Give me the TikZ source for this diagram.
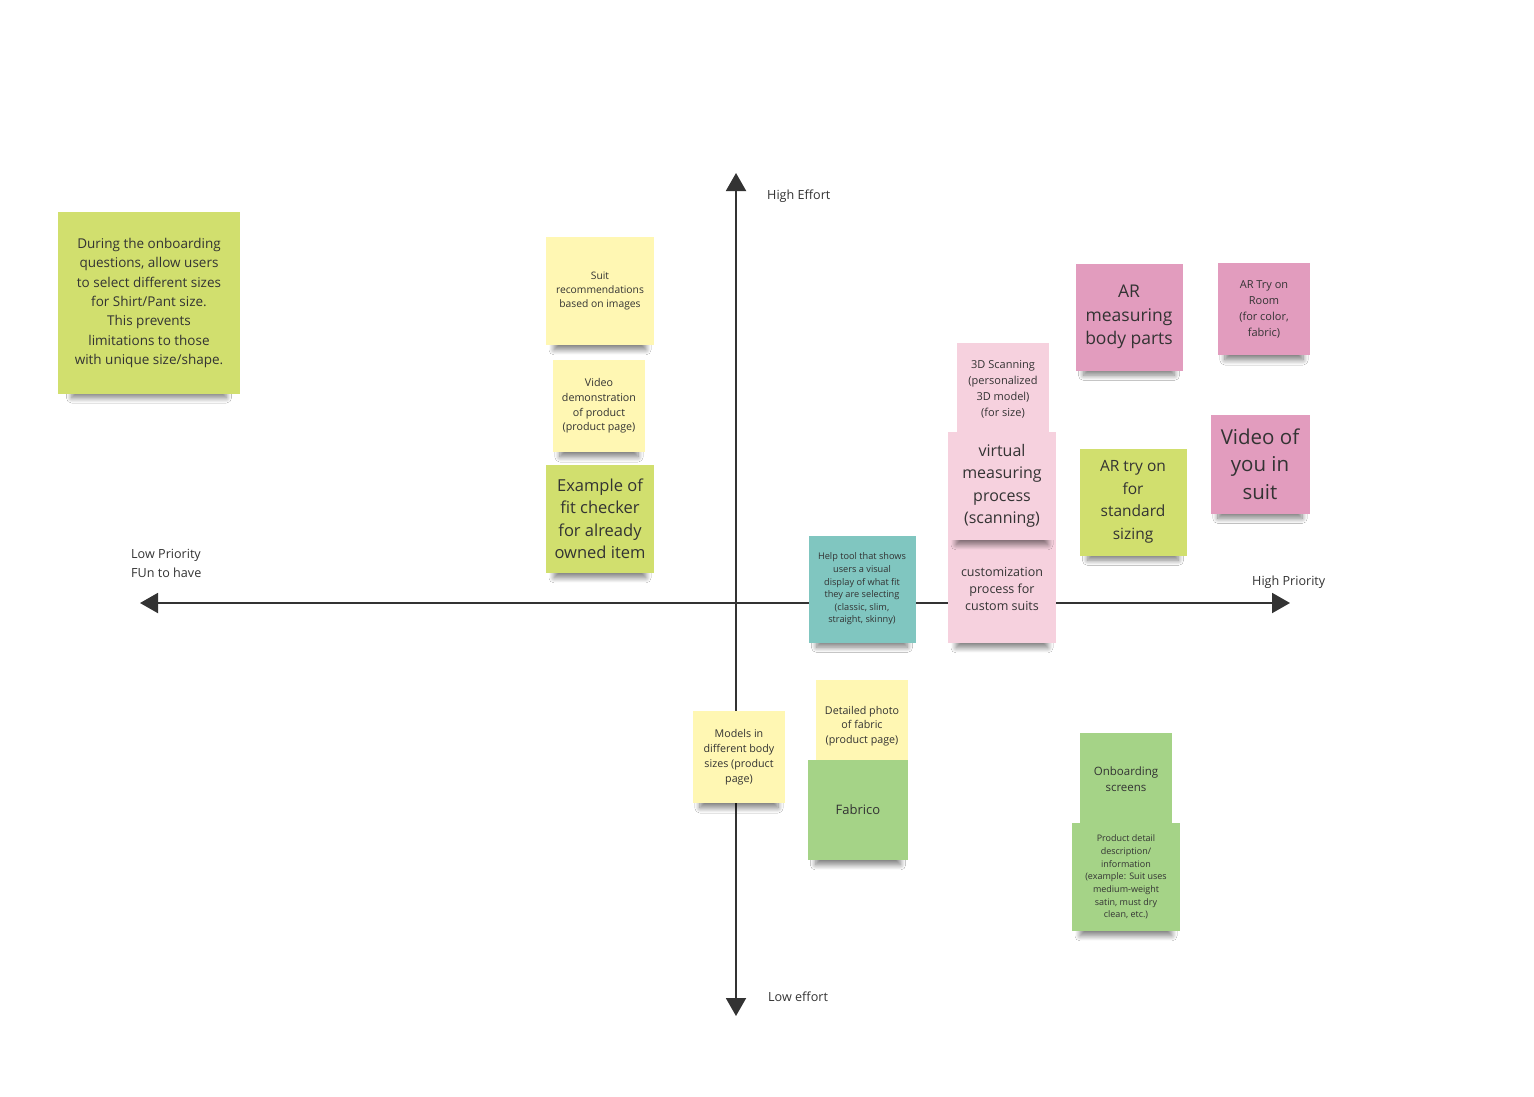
\documentclass[tikz,border=0pt]{standalone}
\usepackage{fontspec}
\setmainfont{Open Sans}
\usetikzlibrary{arrows.meta,shadows.blur}
\definecolor{ink}{HTML}{333333}
\definecolor{paleyellow}{HTML}{FFF7B3}
\definecolor{lime}{HTML}{D1DF6E}
\definecolor{leaf}{HTML}{A5D387}
\definecolor{aqua}{HTML}{80C6C0}
\definecolor{blush}{HTML}{F6D1DE}
\definecolor{orchid}{HTML}{E29CBE}
\newcommand{\fs}[2]{\fontsize{#1}{#2}\selectfont}
\begin{document}
\begin{tikzpicture}[x=1pt,y=-1pt,
axis/.style={draw=ink,line width=2pt,-{Triangle[length=18pt,width=20pt]}},
axislabel/.style={anchor=west,text=ink,font=\fs{12.6}{19},align=left,inner sep=0pt},
note/.style={minimum width=#1,minimum height=#1,inner sep=0pt,align=center,text=ink,blur shadow={shadow xshift=0pt,shadow yshift={-0.075*#1-7pt},shadow scale=0.85,shadow opacity=50,shadow blur radius=6pt,shadow blur steps=14}},
yellownote/.style={note=#1,fill=paleyellow},
limenote/.style={note=#1,fill=lime},
leafnote/.style={note=#1,fill=leaf},
aquanote/.style={note=#1,fill=aqua},
blushnote/.style={note=#1,fill=blush},
orchidnote/.style={note=#1,fill=orchid}]
\fill[white] (0,0) rectangle (1534,1096);
\useasboundingbox (0,0) rectangle (1534,1096);
% axes
\coordinate (origin) at (736,603);
\coordinate (east) at (1290,603); \coordinate (west) at (140,603);
\coordinate (north) at (736,173); \coordinate (south) at (736,1016);
\draw[axis] (origin)--(east);
\draw[axis] (origin)--(west);
\draw[axis] (origin)--(north);
\draw[axis] (origin)--(south);
\node[axislabel] (higheffort) at (767,196) {High Effort};
\node[axislabel] (loweffort) at (768,997) {Low effort};
\node[axislabel] (highprio) at (1252,582) {High Priority};
\node[axislabel] (lowprio) at (131,563) {Low Priority\\FUn to have};
% left column
\node[limenote=182pt,font=\fs{13.5}{19.4}] (onboardq) at (149,303) {During the onboarding\\questions, allow users\\to select different sizes\\for Shirt/Pant size.\\This prevents\\limitations to those\\with unique size/shape.};
\node[yellownote=108pt,font=\fs{10.3}{14}] (suitrec) at (600,291) {Suit\\recommendations\\based on images};
\node[yellownote=92pt,font=\fs{10.7}{14.7}] (videodemo) at (599,406) {Video\\demonstration\\of product\\(product page)};
\node[limenote=108pt,font=\fs{16.5}{22.5}] (fitcheck) at (600,519) {Example of\\fit checker\\for already\\owned item};
% right of the vertical axis
\node[aquanote=107pt,font=\fs{9.2}{12.6}] (helptool) at (862,589) {Help tool that shows\\users a visual\\display of what fit\\they are selecting\\(classic, slim,\\straight, skinny)};
\node[blushnote=92pt,font=\fs{11}{16}] (scan3d) at (1003,389) {3D Scanning\\(personalized\\3D model)\\(for size)};
\node[blushnote=108pt,font=\fs{12.5}{17}] (customize) at (1002,589) {customization\\process for\\custom suits};
\node[blushnote=108pt,font=\fs{16}{22.5}] (virtualmeas) at (1002,486) {virtual\\measuring\\process\\(scanning)};
\node[orchidnote=107pt,font=\fs{17.5}{23.5}] (armeasure) at (1129,317) {AR\\measuring\\body parts};
\node[orchidnote=92pt,font=\fs{11}{16}] (arroom) at (1264,309) {AR Try on\\Room\\(for color,\\fabric)};
\node[orchidnote=99pt,font=\fs{20.5}{27.5}] (videoyou) at (1260,464) {Video of\\you in\\suit};
\node[limenote=107pt,font=\fs{15.5}{22.5}] (arstandard) at (1133,502) {AR try on\\for\\standard\\sizing};
% below the horizontal axis
\node[leafnote=92pt,font=\fs{11.5}{16}] (onboardscr) at (1126,779) {Onboarding\\screens};
\node[leafnote=108pt,font=\fs{9}{12.7}] (proddetail) at (1126,877) {Product detail\\description/\\information\\(example: Suit uses\\medium-weight\\satin, must dry\\clean, etc.)};
\node[yellownote=92pt,font=\fs{10.7}{15}] (models) at (739,757) {Models in\\different body\\sizes (product\\page)};
\node[yellownote=92pt,font=\fs{10.7}{14.7}] (fabricphoto) at (862,726) {Detailed photo\\of fabric\\(product page)};
\node[leafnote=100pt,font=\fs{13}{17}] (fabrico) at (858,810) {Fabrico};
\end{tikzpicture}
\end{document}
